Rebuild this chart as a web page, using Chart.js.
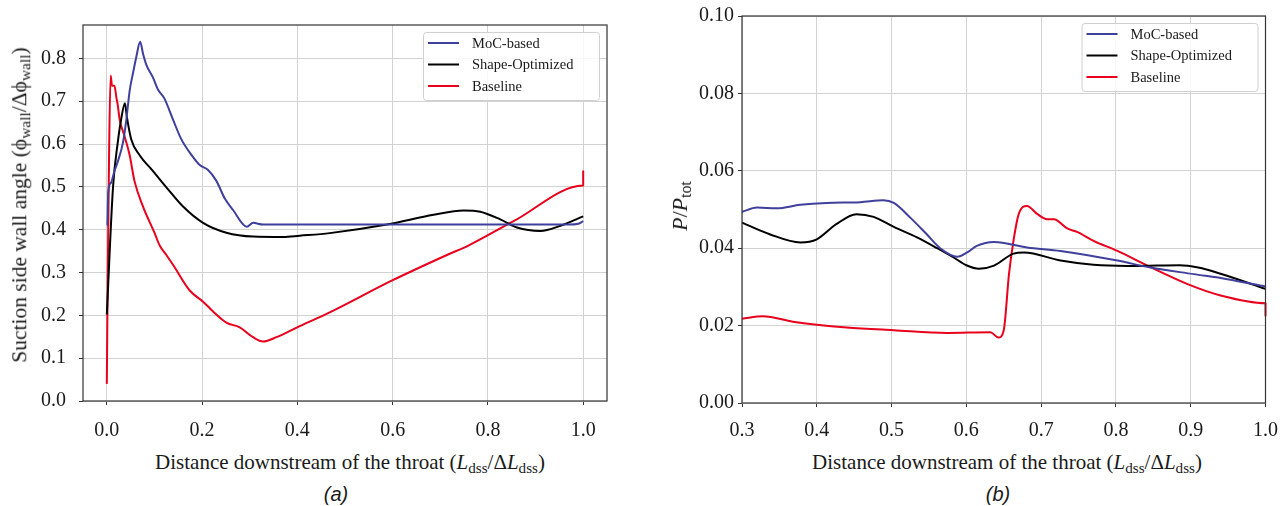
<!DOCTYPE html>
<html>
<head>
<meta charset="utf-8">
<script src="https://cdn.jsdelivr.net/npm/chart.js@4.4.1/dist/chart.umd.min.js"></script>
<style>
  html, body { margin: 0; padding: 0; background: #fff; }
  #fig { position: relative; width: 1286px; height: 506px; overflow: hidden;
         font-family: 'Liberation Serif', 'Times New Roman', serif; color: #1a1a1a; }
  .panel { position: absolute; }
  .lbl { position: absolute; white-space: nowrap; font-size: 21px; line-height: 1;
         transform: translate(-50%, -50%); }
  .rot { transform: translate(-50%, -50%) rotate(-90deg); font-size: 21.5px; }
  sub { font-size: 0.72em; vertical-align: -0.28em; line-height: 0; }
  .cap { font-family: 'Liberation Sans', Arial, sans-serif; font-style: italic; font-size: 20px; }
</style>
</head>
<body>
<div id="fig">
  <div class="panel" style="left:0;top:0;width:640px;height:440px"><canvas id="chartA"></canvas></div>
  <div class="panel" style="left:640px;top:0;width:650px;height:440px"><canvas id="chartB"></canvas></div>
  <div class="lbl rot" style="left:20px;top:205px">Suction side wall angle (ϕ<sub>wall</sub>/Δϕ<sub>wall</sub>)</div>
  <div class="lbl" style="left:350px;top:462px">Distance downstream of the throat (<i>L</i><sub>dss</sub>/Δ<i>L</i><sub>dss</sub>)</div>
  <div class="lbl cap" style="left:336px;top:494px">(a)</div>
  <div class="lbl rot" style="left:680px;top:206px;font-size:22px"><i>P</i>/<i>P</i><sub>tot</sub></div>
  <div class="lbl" style="left:1007px;top:462px">Distance downstream of the throat (<i>L</i><sub>dss</sub>/Δ<i>L</i><sub>dss</sub>)</div>
  <div class="lbl cap" style="left:998px;top:494px">(b)</div>
</div>
<script>
// series labels and colours
const seriesNames = ['MoC-based', 'Shape-Optimized', 'Baseline'];
const seriesColors = ['#3f3f9c', '#000000', '#e8001c'];

// (a) wall angle vs distance
const xTicksA = [0.0, 0.2, 0.4, 0.6, 0.8, 1.0];
const xLabelsA = ['0.0', '0.2', '0.4', '0.6', '0.8', '1.0'];
const yTicksA = [0.0, 0.1, 0.2, 0.3, 0.4, 0.5, 0.6, 0.7, 0.8];
const yLabelsA = ['0.0', '0.1', '0.2', '0.3', '0.4', '0.5', '0.6', '0.7', '0.8'];

const mocAx = [0.0, 0.001, 0.003, 0.009, 0.016, 0.023, 0.034, 0.041, 0.048, 0.055, 0.062, 0.070, 0.076, 0.083, 0.097, 0.107, 0.121, 0.139, 0.156, 0.178, 0.195, 0.212, 0.230, 0.248, 0.265, 0.294, 0.307, 0.328, 0.40, 0.60, 0.80, 0.97, 0.99, 1.0];
const mocAy = [0.41, 0.41, 0.49, 0.51, 0.537, 0.559, 0.604, 0.657, 0.725, 0.766, 0.804, 0.839, 0.811, 0.785, 0.755, 0.728, 0.706, 0.657, 0.612, 0.574, 0.551, 0.540, 0.514, 0.472, 0.446, 0.407, 0.416, 0.412, 0.412, 0.412, 0.412, 0.412, 0.414, 0.420];

const optAx = [0.0, 0.013, 0.023, 0.030, 0.038, 0.042, 0.051, 0.069, 0.097, 0.125, 0.160, 0.202, 0.251, 0.307, 0.370, 0.405, 0.468, 0.588, 0.686, 0.749, 0.784, 0.826, 0.861, 0.910, 0.952, 1.0];
const optAy = [0.202, 0.499, 0.604, 0.657, 0.695, 0.664, 0.612, 0.574, 0.537, 0.499, 0.454, 0.416, 0.393, 0.384, 0.383, 0.386, 0.392, 0.412, 0.435, 0.445, 0.442, 0.424, 0.405, 0.397, 0.409, 0.431];

const baseAx = [0.0, 0.002, 0.005, 0.008, 0.011, 0.016, 0.020, 0.023, 0.027, 0.037, 0.048, 0.058, 0.076, 0.100, 0.111, 0.125, 0.139, 0.174, 0.202, 0.223, 0.251, 0.279, 0.307, 0.328, 0.356, 0.405, 0.468, 0.598, 0.714, 0.759, 0.854, 1.0, 1.0];
const baseAy = [0.04, 0.30, 0.60, 0.760, 0.736, 0.736, 0.709, 0.691, 0.657, 0.619, 0.574, 0.514, 0.454, 0.393, 0.363, 0.341, 0.318, 0.258, 0.232, 0.209, 0.183, 0.172, 0.149, 0.139, 0.149, 0.175, 0.207, 0.281, 0.341, 0.363, 0.420, 0.503, 0.538];

// (b) pressure ratio vs distance
const xTicksB = [0.3, 0.4, 0.5, 0.6, 0.7, 0.8, 0.9, 1.0];
const xLabelsB = ['0.3', '0.4', '0.5', '0.6', '0.7', '0.8', '0.9', '1.0'];
const yTicksB = [0.00, 0.02, 0.04, 0.06, 0.08, 0.10];
const yLabelsB = ['0.00', '0.02', '0.04', '0.06', '0.08', '0.10'];

const mocBx = [0.3, 0.320, 0.346, 0.378, 0.413, 0.458, 0.489, 0.503, 0.525, 0.547, 0.565, 0.588, 0.601, 0.614, 0.637, 0.681, 0.726, 0.802, 0.846, 0.904, 0.949, 1.0];
const mocBy = [0.0494, 0.0505, 0.0503, 0.0512, 0.0517, 0.0519, 0.0524, 0.0517, 0.0479, 0.0436, 0.0400, 0.0378, 0.0389, 0.0406, 0.0416, 0.0402, 0.0393, 0.0368, 0.0350, 0.0333, 0.0320, 0.0301];

const optBx = [0.3, 0.337, 0.378, 0.400, 0.426, 0.453, 0.476, 0.503, 0.534, 0.561, 0.583, 0.600, 0.617, 0.637, 0.663, 0.677, 0.726, 0.770, 0.815, 0.855, 0.885, 0.910, 0.940, 1.0];
const optBy = [0.0466, 0.0436, 0.0415, 0.0423, 0.0462, 0.0488, 0.0481, 0.0455, 0.0428, 0.0400, 0.0376, 0.0356, 0.0347, 0.0355, 0.0386, 0.0389, 0.0368, 0.0357, 0.0354, 0.0355, 0.0356, 0.0350, 0.0334, 0.0295];

const baseBx = [0.3, 0.328, 0.368, 0.400, 0.440, 0.503, 0.574, 0.632, 0.643, 0.650, 0.657, 0.663, 0.670, 0.681, 0.695, 0.708, 0.717, 0.735, 0.748, 0.770, 0.802, 0.842, 0.895, 0.940, 1.0, 1.0];
const baseBy = [0.0218, 0.0224, 0.0210, 0.0202, 0.0195, 0.0188, 0.0181, 0.0183, 0.0169, 0.0188, 0.0333, 0.0419, 0.0488, 0.0509, 0.0488, 0.0475, 0.0475, 0.0451, 0.0442, 0.0419, 0.0393, 0.0355, 0.0308, 0.0278, 0.0258, 0.0224];

Chart.defaults.font.family = "'Liberation Serif', 'Times New Roman', serif";
Chart.defaults.color = '#1a1a1a';

function toPoints(xs, ys) {
  return xs.map((x, i) => ({ x: x, y: ys[i] }));
}

function makeSet(i, xs, ys) {
  return {
    label: seriesNames[i],
    data: toPoints(xs, ys),
    borderColor: seriesColors[i],
    backgroundColor: seriesColors[i],
    borderWidth: 2,
    pointRadius: 0,
    cubicInterpolationMode: 'monotone',
    borderJoinStyle: 'round',
    clip: 3
  };
}

// black box round the plot area
const framePlugin = {
  id: 'frame',
  afterDatasetsDraw(chart) {
    const { ctx, chartArea: a } = chart;
    ctx.save();
    ctx.strokeStyle = '#333';
    ctx.lineWidth = 1.2;
    ctx.strokeRect(a.left, a.top, a.right - a.left, a.bottom - a.top);
    ctx.restore();
  }
};

// matplotlib-like legend inside the upper right corner
const insideLegend = {
  id: 'insideLegend',
  afterDraw(chart) {
    const { ctx, chartArea: a } = chart;
    const w = 176, h = 68;
    const bx = a.right - 8 - w, by = a.top + 7;
    ctx.save();
    ctx.fillStyle = 'rgba(255,255,255,0.85)';
    ctx.strokeStyle = '#d0d0d0';
    ctx.lineWidth = 1;
    ctx.beginPath();
    ctx.roundRect(bx + 0.5, by + 0.5, w, h, 3);
    ctx.fill();
    ctx.stroke();
    ctx.font = "14.5px 'Liberation Serif'";
    ctx.textBaseline = 'middle';
    chart.data.datasets.forEach((ds, i) => {
      const y = by + 11 + i * 21.5;
      ctx.strokeStyle = ds.borderColor;
      ctx.lineWidth = 2;
      ctx.beginPath();
      ctx.moveTo(bx + 5, y);
      ctx.lineTo(bx + 36, y);
      ctx.stroke();
      ctx.fillStyle = '#1a1a1a';
      ctx.fillText(ds.label, bx + 49, y + 1);
    });
    ctx.restore();
  }
};

function makeChart(id, datasets, cfg) {
  return new Chart(document.getElementById(id), {
    type: 'line',
    data: { datasets: datasets },
    plugins: [framePlugin, insideLegend],
    options: {
      responsive: true,
      maintainAspectRatio: false,
      animation: false,
      layout: { padding: cfg.padding },
      plugins: { legend: { display: false }, tooltip: { enabled: false } },
      scales: {
        x: {
          type: 'linear',
          min: cfg.xMin,
          max: cfg.xMax,
          afterBuildTicks: s => { s.ticks = cfg.xTicks.map(v => ({ value: v })); },
          afterFit: s => { s.height = cfg.xHeight; },
          ticks: {
            font: { size: 20 },
            color: '#1a1a1a',
            padding: cfg.xPad,
            maxRotation: 0,
            autoSkip: false,
            callback: (v, i) => cfg.xLabels[i]
          },
          grid: { color: '#d2d2d2', lineWidth: 1, tickColor: '#333', tickLength: cfg.xTickLen },
          border: { display: false }
        },
        y: {
          type: 'linear',
          min: cfg.yMin,
          max: cfg.yMax,
          afterBuildTicks: s => { s.ticks = cfg.yTicks.map(v => ({ value: v })); },
          afterFit: s => { s.width = cfg.yWidth; },
          ticks: {
            font: { size: 20 },
            color: '#1a1a1a',
            padding: cfg.yPad,
            autoSkip: false,
            callback: (v, i) => cfg.yLabels[i]
          },
          grid: { color: '#d2d2d2', lineWidth: 1, tickColor: '#333', tickLength: 4 },
          border: { display: false }
        }
      }
    }
  });
}

makeChart('chartA', [
  makeSet(0, mocAx, mocAy),
  makeSet(1, optAx, optAy),
  makeSet(2, baseAx, baseAy)
], {
  padding: { left: 33, top: 12, right: 33, bottom: 0 },
  xMin: -0.05, xMax: 1.05, yMin: 0, yMax: 0.878,
  xTicks: xTicksA, xLabels: xLabelsA, yTicks: yTicksA, yLabels: yLabelsA,
  xHeight: 39, yWidth: 50, yPad: 13, xTickLen: 4, xPad: 14
});

makeChart('chartB', [
  makeSet(0, mocBx, mocBy),
  makeSet(1, optBx, optBy),
  makeSet(2, baseBx, baseBy)
], {
  padding: { left: 42, top: 14, right: 17, bottom: 0 },
  xMin: 0.3, xMax: 1.0, yMin: 0, yMax: 0.10,
  xTicks: xTicksB, xLabels: xLabelsB, yTicks: yTicksB, yLabels: yLabelsB,
  xHeight: 37, yWidth: 60, yPad: 4, xTickLen: 4, xPad: 12
});
</script>
</body>
</html>
